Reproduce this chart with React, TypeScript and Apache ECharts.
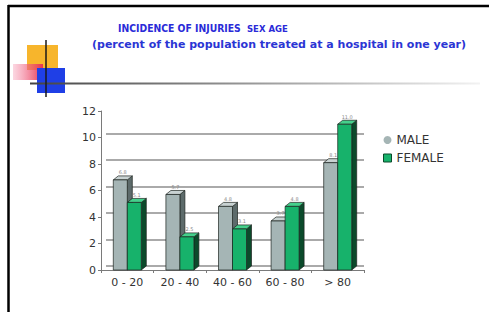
import React, { useEffect, useRef } from "react";
import * as echarts from "echarts";

const categories = ["0 - 20", "20 - 40", "40 - 60", "60 - 80", "> 80"];
const maleValues = [6.8, 5.7, 4.8, 3.7, 8.1];
const femaleValues = [5.1, 2.5, 3.1, 4.8, 11.0];
const seriesNames = ["MALE", "FEMALE"];
const yMin = 0;
const yMax = 12;
const yInterval = 2;
const wallMax = 10;

const titleMain = "INCIDENCE OF INJURIES";
const titleSmall = "SEX AGE";
const subtitle = "(percent of the population treated at a hospital in one year)";

type Palette = { front: string; side: string; top: string };
const malePalette: Palette = { front: "#a5b5b5", side: "#5d6b6b", top: "#c8d2d2" };
const femalePalette: Palette = { front: "#17b26b", side: "#0b4a2b", top: "#45d08c" };

function makeRender(left: boolean, pal: Palette) {
  return (params: any, api: any) => {
    const i = api.value(0);
    const v = api.value(1);
    const c = api.coord([i, v]);
    const b = api.coord([i, 0]);
    const w = 14;
    const dx = 5;
    const dy = -4;
    const x0 = left ? c[0] - w : c[0];
    const x1 = x0 + w;
    const top = c[1];
    const base = b[1];
    const stroke = "#1c2420";
    const lw = 0.7;
    return {
      type: "group",
      children: [
        {
          type: "polygon",
          shape: { points: [[x1, top], [x1 + dx, top + dy], [x1 + dx, base + dy], [x1, base]] },
          style: { fill: pal.side, stroke, lineWidth: lw },
        },
        {
          type: "polygon",
          shape: { points: [[x0, top], [x0 + dx, top + dy], [x1 + dx, top + dy], [x1, top]] },
          style: { fill: pal.top, stroke, lineWidth: lw },
        },
        {
          type: "rect",
          shape: { x: x0, y: top, width: w, height: base - top },
          style: { fill: pal.front, stroke, lineWidth: lw },
        },
        {
          type: "text",
          style: {
            text: v.toFixed(1),
            x: x0 + w / 2 + dx / 2,
            y: top + dy - 1,
            fontSize: 5,
            fill: "#8a8a8a",
            align: "center",
            verticalAlign: "bottom",
            fontFamily: "DejaVu Sans",
          },
        },
      ],
    };
  };
}

export default function App() {
  const ref = useRef<HTMLDivElement>(null);
  useEffect(() => {
    if (!ref.current) return;
    const chart = echarts.init(ref.current, null, { renderer: "svg" });
    const axisFont = "DejaVu Sans";
    const titleFont = "'DejaVu Sans Condensed', 'DejaVu Sans'";
    const plotH = 159;
    const wallH = (plotH * wallMax) / yMax;
    chart.setOption({
      animation: false,
      backgroundColor: "#ffffff",
      grid: [
        { left: 101, top: 111, width: 263, height: plotH },
        { left: 106, top: 107 + (plotH - wallH), width: 258, height: wallH },
      ],
      xAxis: [
        {
          type: "category",
          gridIndex: 0,
          data: categories,
          axisLine: { lineStyle: { color: "#7a7a7a", width: 1 } },
          axisTick: { show: true, length: 3, lineStyle: { color: "#7a7a7a" } },
          axisLabel: { color: "#333", fontSize: 11, fontFamily: axisFont, margin: 7 },
          splitLine: { show: false },
        },
        { type: "category", gridIndex: 1, data: categories, show: false },
      ],
      yAxis: [
        {
          type: "value",
          gridIndex: 0,
          min: yMin,
          max: yMax,
          interval: yInterval,
          axisLine: { show: true, lineStyle: { color: "#7a7a7a", width: 1 } },
          axisTick: { show: true, length: 3, lineStyle: { color: "#7a7a7a" } },
          axisLabel: { color: "#333", fontSize: 11, fontFamily: axisFont, margin: 5 },
          splitLine: { show: false },
        },
        {
          type: "value",
          gridIndex: 1,
          min: yMin,
          max: wallMax,
          interval: yInterval,
          axisLine: { show: false },
          axisTick: { show: false },
          axisLabel: { show: false },
          splitLine: { show: true, lineStyle: { color: "#8e8e8e", width: 1.5 } },
        },
      ],
      legend: {
        orient: "vertical",
        left: 378,
        top: 129,
        itemGap: 6,
        itemWidth: 8,
        itemHeight: 8,
        textStyle: { color: "#333", fontSize: 12, fontFamily: axisFont, lineHeight: 12 },
        data: [
          { name: seriesNames[0], icon: "circle" },
          { name: seriesNames[1], icon: "rect", itemStyle: { borderColor: "#0b4a2b", borderWidth: 1 } },
        ],
      },
      series: [
        {
          name: seriesNames[0],
          type: "custom",
          xAxisIndex: 0,
          yAxisIndex: 0,
          itemStyle: { color: malePalette.front },
          data: maleValues.map((v, i) => [i, v]),
          renderItem: makeRender(true, malePalette),
        },
        {
          name: seriesNames[1],
          type: "custom",
          xAxisIndex: 0,
          yAxisIndex: 0,
          itemStyle: { color: femalePalette.front },
          data: femaleValues.map((v, i) => [i, v]),
          renderItem: makeRender(false, femalePalette),
        },
      ],
      graphic: [
        { type: "rect", shape: { x: 27, y: 45, width: 31, height: 25 }, style: { fill: "#f7b52c" }, z: 1 },
        {
          type: "rect",
          shape: { x: 13, y: 64, width: 30, height: 16 },
          style: {
            fill: new echarts.graphic.LinearGradient(0, 0, 1, 0, [
              { offset: 0, color: "rgba(245,140,170,0.35)" },
              { offset: 1, color: "#e83350" },
            ]),
          },
          z: 2,
        },
        { type: "rect", shape: { x: 37, y: 68, width: 28, height: 25 }, style: { fill: "#1f3fe6" }, z: 3 },
        {
          type: "rect",
          shape: { x: 30, y: 82.5, width: 450, height: 2 },
          style: {
            fill: new echarts.graphic.LinearGradient(0, 0, 1, 0, [
              { offset: 0, color: "#444444" },
              { offset: 0.5, color: "#9a9a9a" },
              { offset: 1, color: "#f2f2f2" },
            ]),
          },
          z: 4,
        },
        { type: "line", shape: { x1: 46, y1: 40, x2: 46, y2: 97 }, style: { stroke: "#1a1a1a", lineWidth: 1.5 }, z: 4 },
        { type: "line", shape: { x1: 8.5, y1: 5, x2: 8.5, y2: 312 }, style: { stroke: "#000", lineWidth: 2.5 }, z: 5 },
        { type: "line", shape: { x1: 8, y1: 6, x2: 489, y2: 6 }, style: { stroke: "#000", lineWidth: 2.5 }, z: 5 },
        {
          type: "text",
          x: 118,
          y: 28,
          style: { text: titleMain, fill: "#2a2ad8", fontSize: 10.3, fontWeight: "bold", fontFamily: titleFont, verticalAlign: "middle" },
          z: 5,
        },
        {
          type: "text",
          x: 247,
          y: 29,
          style: { text: titleSmall, fill: "#2a2ad8", fontSize: 8.5, fontWeight: "bold", fontFamily: "DejaVu Sans", verticalAlign: "middle" },
          z: 5,
        },
        {
          type: "text",
          x: 92,
          y: 44,
          style: { text: subtitle, fill: "#2b35d4", fontSize: 11, fontWeight: "bold", fontFamily: "DejaVu Sans", verticalAlign: "middle" },
          z: 5,
        },
      ],
    });
    return () => chart.dispose();
  }, []);
  return <div ref={ref} style={{ position: "fixed", left: 0, top: 0, width: 489, height: 312 }} />;
}
